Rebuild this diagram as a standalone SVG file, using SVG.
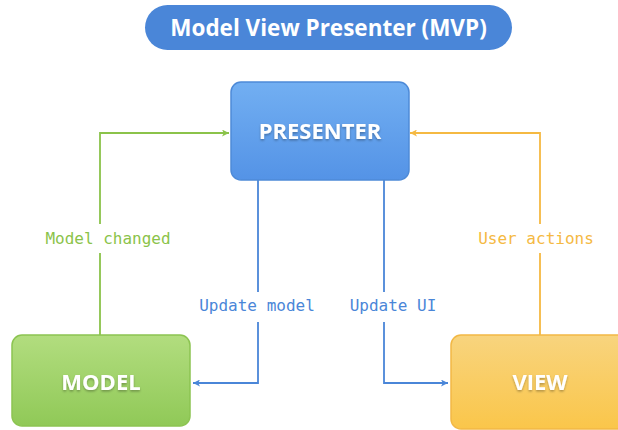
<svg xmlns="http://www.w3.org/2000/svg" width="618" height="430" viewBox="0 0 618 430">
<style>
.node-label{font-family:"Open Sans","Noto Sans","Liberation Sans",sans-serif;font-weight:bold;fill:#ffffff;text-anchor:middle;}
.edge-label{font-family:"DejaVu Sans Mono","Liberation Mono",monospace;font-size:16px;text-anchor:middle;}
.line{fill:none;stroke-width:1.8;}
</style>
<defs>
<linearGradient id="gBlue" x1="0" y1="0" x2="0" y2="1"><stop offset="0" stop-color="#72aff2"/><stop offset="1" stop-color="#5493e6"/></linearGradient>
<linearGradient id="gGreen" x1="0" y1="0" x2="0" y2="1"><stop offset="0" stop-color="#b2dd7f"/><stop offset="1" stop-color="#90c957"/></linearGradient>
<linearGradient id="gOrange" x1="0" y1="0" x2="0" y2="1"><stop offset="0" stop-color="#f8d47e"/><stop offset="1" stop-color="#fac64a"/></linearGradient>
<filter id="ts" x="-10%" y="-20%" width="120%" height="160%"><feDropShadow dx="0" dy="1.5" stdDeviation="1" flood-color="#000" flood-opacity="0.3"/></filter>
<marker id="aGreen" viewBox="0 0 10 10" refX="10" refY="5" markerWidth="7" markerHeight="7" orient="auto" markerUnits="userSpaceOnUse"><path d="M0,0 L10,5 L0,10 L2.5,5 Z" fill="#8bc34a"/></marker>
<marker id="aOrange" viewBox="0 0 10 10" refX="10" refY="5" markerWidth="7" markerHeight="7" orient="auto" markerUnits="userSpaceOnUse"><path d="M0,0 L10,5 L0,10 L2.5,5 Z" fill="#f5b942"/></marker>
<marker id="aBlue" viewBox="0 0 10 10" refX="10" refY="5" markerWidth="7" markerHeight="7" orient="auto" markerUnits="userSpaceOnUse"><path d="M0,0 L10,5 L0,10 L2.5,5 Z" fill="#4a86d8"/></marker>
</defs>
<rect width="618" height="430" fill="#ffffff"/>
<g id="title">
<rect x="145" y="5" width="367" height="45" rx="22.5" fill="#4a86d8"/>
<text class="node-label" x="328.5" y="36" font-size="22.5" font-weight="600">Model View Presenter (MVP)</text>
</g>
<g id="connectors">
<path class="line" d="M100,335 V133 H229" stroke="#8bc34a" marker-end="url(#aGreen)"/>
<path class="line" d="M540,335 V133 H410" stroke="#f5b942" marker-end="url(#aOrange)"/>
<path class="line" d="M258,180 V383 H193" stroke="#4a86d8" marker-end="url(#aBlue)"/>
<path class="line" d="M384,180 V383 H448" stroke="#4a86d8" marker-end="url(#aBlue)"/>
<rect x="40" y="224" width="136" height="29" fill="#ffffff"/>
<rect x="472" y="224" width="128" height="29" fill="#ffffff"/>
<rect x="194" y="292" width="128" height="30" fill="#ffffff"/>
<rect x="344" y="292" width="98" height="30" fill="#ffffff"/>
<text class="edge-label" x="108" y="244" fill="#8bc34a">Model changed</text>
<text class="edge-label" x="536" y="244" fill="#f5b942">User actions</text>
<text class="edge-label" x="257" y="311" fill="#4a86d8">Update model</text>
<text class="edge-label" x="393" y="311" fill="#4a86d8">Update UI</text>
</g>
<g id="presenter">
<rect x="231" y="82" width="178" height="98" rx="10" fill="url(#gBlue)" stroke="#4d8ad8" stroke-width="1.5"/>
<text class="node-label" x="320" y="139" font-size="22" filter="url(#ts)">PRESENTER</text>
</g>
<g id="model">
<rect x="12" y="335" width="178" height="91" rx="10" fill="url(#gGreen)" stroke="#8cc451" stroke-width="1.5"/>
<text class="node-label" x="101" y="390" font-size="22" filter="url(#ts)">MODEL</text>
</g>
<g id="view">
<rect x="451" y="335" width="178" height="94" rx="10" fill="url(#gOrange)" stroke="#f2b845" stroke-width="1.5"/>
<text class="node-label" x="540" y="390" font-size="22" filter="url(#ts)">VIEW</text>
</g>
</svg>
